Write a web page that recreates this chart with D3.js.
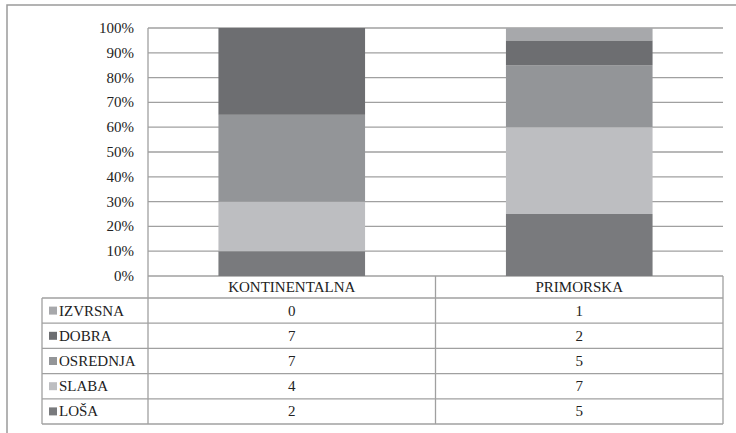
<!DOCTYPE html>
<html><head><meta charset="utf-8">
<script src="https://cdn.jsdelivr.net/npm/d3@7"></script>
</head><body style="margin:0">
<svg id="c" width="736" height="433"></svg>
<script>
const categories = ["KONTINENTALNA", "PRIMORSKA"];
const seriesNames = ["IZVRSNA", "DOBRA", "OSREDNJA", "SLABA", "LOŠA"];
const izvrsna = [0, 1];
const dobra = [7, 2];
const osrednja = [7, 5];
const slaba = [4, 7];
const losa = [2, 5];
const yTicks = [0, 0.1, 0.2, 0.3, 0.4, 0.5, 0.6, 0.7, 0.8, 0.9, 1.0];
const colors = {"IZVRSNA": "#a7a8ab", "DOBRA": "#6d6e71", "OSREDNJA": "#939598", "SLABA": "#bdbec1", "LOŠA": "#797a7d"};

(function () {
const seriesValues = {"IZVRSNA": izvrsna, "DOBRA": dobra, "OSREDNJA": osrednja, "SLABA": slaba, "LOŠA": losa};
const svg = d3.select("#c");
const grid = "#a0a0a0";
const fs = 15;
const FF = '"Times New Roman", monospace';

svg.append("rect").attr("x", 7).attr("y", 5).attr("width", 740).attr("height", 440)
  .attr("fill", "none").attr("stroke", "#9a9a9a").attr("stroke-width", 1.5);

const pLeft = 148, pRight = 723, pTop = 28, pBottom = 276;
const x = d3.scaleBand().domain(categories).range([pLeft, pRight]).paddingInner(0).paddingOuter(0);
const y = d3.scaleLinear().domain([0, 1]).range([pBottom, pTop]);

svg.append("g").selectAll("line").data(yTicks).join("line")
  .attr("x1", pLeft).attr("x2", pRight).attr("y1", d => y(d)).attr("y2", d => y(d))
  .attr("stroke", grid).attr("stroke-width", 1.3);

const rows = categories.map((c, i) => {
  const o = {cat: c};
  seriesNames.forEach(s => o[s] = seriesValues[s][i]);
  return o;
});
const stackOrder = ["LOŠA", "SLABA", "OSREDNJA", "DOBRA", "IZVRSNA"];
const stacked = d3.stack().keys(stackOrder).offset(d3.stackOffsetExpand)(rows);
const barW = x.bandwidth() * 0.51;
svg.append("g").selectAll("g").data(stacked).join("g")
  .attr("fill", d => colors[d.key])
  .selectAll("rect").data(d => d).join("rect")
  .attr("x", d => x(d.data.cat) + (x.bandwidth() - barW) / 2)
  .attr("width", barW)
  .attr("y", d => y(d[1]))
  .attr("height", d => y(d[0]) - y(d[1]));

// y-axis tick labels drawn as plain text from the scale's ticks
const fmt = d3.format(".0%");
svg.append("g").selectAll("text").data(yTicks).join("text")
  .attr("x", pLeft - 14).attr("y", d => y(d) + 5)
  .attr("text-anchor", "end").attr("font-size", 15).attr("fill", "#222")
  .style("font-family", FF).text(d => fmt(d));

const tLeft = 42, rowH = 25.2, headH = 22;
const tb = svg.append("g");
const tableBottom = pBottom + headH + rowH * seriesNames.length;
tb.append("line").attr("x1", pLeft).attr("x2", pLeft).attr("y1", pTop).attr("y2", tableBottom).attr("stroke", grid).attr("stroke-width", 1.3);
const txt = (xx, yy, s, anchor) => tb.append("text").attr("x", xx).attr("y", yy)
  .attr("text-anchor", anchor).attr("font-size", fs).attr("fill", "#222")
  .style("font-family", FF).text(s);
categories.forEach((c, i) => {
  const xe = x(c) + x.bandwidth();
  tb.append("line").attr("x1", xe).attr("x2", xe).attr("y1", pBottom).attr("y2", tableBottom).attr("stroke", grid).attr("stroke-width", 1.3);
  txt(x(c) + x.bandwidth() / 2, pBottom + headH / 2 + 5, c, "middle");
});
tb.append("line").attr("x1", tLeft).attr("x2", tLeft).attr("y1", pBottom + headH).attr("y2", tableBottom).attr("stroke", grid).attr("stroke-width", 1.3);
for (let r = 0; r <= seriesNames.length; r++) {
  const yy = pBottom + headH + r * rowH;
  tb.append("line").attr("x1", tLeft).attr("x2", pRight).attr("y1", yy).attr("y2", yy).attr("stroke", grid).attr("stroke-width", 1.3);
}
seriesNames.forEach((s, r) => {
  const cy = pBottom + headH + r * rowH + rowH / 2;
  tb.append("rect").attr("x", 49).attr("y", cy - 4).attr("width", 8).attr("height", 8).attr("fill", colors[s]);
  txt(59, cy + 5, s, "start");
  categories.forEach((c, i) => {
    txt(x(c) + x.bandwidth() / 2, cy + 5, String(seriesValues[s][i]), "middle");
  });
});
})();
</script>
</body></html>
